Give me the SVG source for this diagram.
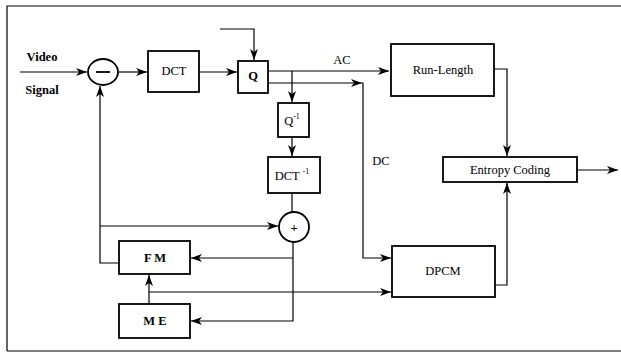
<svg xmlns="http://www.w3.org/2000/svg" width="621" height="355" viewBox="0 0 621 355">
<defs>
<marker id="ah" markerWidth="12" markerHeight="8" refX="11" refY="4" orient="auto" markerUnits="userSpaceOnUse">
<path d="M0,0 L11,4 L0,8 L3,4 Z" fill="#000"/>
</marker>
</defs>
<style>
.box{fill:#fff;stroke:#000;stroke-width:1.8}
.ln{fill:none;stroke:#000;stroke-width:1.2}
.ar{fill:none;stroke:#000;stroke-width:1.2;marker-end:url(#ah)}
text{font-family:"Liberation Serif","Times New Roman",serif;font-size:12.5px;fill:#000;text-anchor:middle;dominant-baseline:central}
.b{font-weight:bold}
</style>
<rect width="621" height="355" fill="#fff"/>
<g id="frame">
<path d="M7,351 L7,6 L621,6" class="ln" stroke-width="1.5"/>
<path d="M7,351 L621,351" class="ln" stroke-width="1.5"/>
</g>
<g id="connectors">
<line x1="20" y1="72" x2="87" y2="72" class="ar"/>
<line x1="118" y1="72" x2="147" y2="72" class="ar"/>
<line x1="199" y1="72" x2="237" y2="72" class="ar"/>
<path d="M220,29 L254,29 L254,60" class="ar"/>
<line x1="268" y1="71" x2="389" y2="71" class="ar"/>
<path d="M268,83 L362,83" class="ar"/>
<path d="M362,83 L363,83 L363,258 L391,258" class="ar"/>
<line x1="292" y1="71" x2="292" y2="102" class="ar"/>
<line x1="292" y1="137" x2="292" y2="156" class="ar"/>
<line x1="292" y1="193" x2="292" y2="212" class="ln"/>
<path d="M494,69 L507,69 L507,156" class="ar"/>
<path d="M495,285 L507,285 L507,183" class="ar"/>
<line x1="577" y1="170" x2="618" y2="170" class="ar"/>
<path d="M119,263 L100,263 L100,86" class="ar"/>
<line x1="100" y1="226" x2="278" y2="226" class="ar"/>
<path d="M293,242 L293,321 L191,321" class="ar"/>
<line x1="293" y1="258" x2="191" y2="258" class="ar"/>
<line x1="149" y1="304" x2="149" y2="275" class="ar"/>
<line x1="149" y1="292" x2="391" y2="292" class="ar"/>
</g>
<g id="labels">
<text x="42" y="57" class="b">Video</text>
<text x="42" y="90" class="b">Signal</text>
<text x="342" y="60">AC</text>
<text x="381" y="161">DC</text>
</g>
<g id="sub">
<ellipse cx="103" cy="72" rx="15" ry="13" class="box"/>
<line x1="96" y1="72" x2="110" y2="72" stroke="#000" stroke-width="1.8"/>
</g>
<g id="dct">
<rect x="148" y="51" width="51" height="41" class="box"/>
<text x="174" y="71">DCT</text>
</g>
<g id="q">
<rect x="238" y="61" width="30" height="32" class="box"/>
<text x="253" y="76" class="b">Q</text>
</g>
<g id="qinv">
<rect x="278" y="103" width="31" height="34" class="box"/>
<text x="292" y="121">Q<tspan font-size="8" dy="-5">-1</tspan></text>
</g>
<g id="idct">
<rect x="268" y="157" width="52" height="36" class="box"/>
<text x="292" y="176">DCT <tspan font-size="8" dy="-5">-1</tspan></text>
</g>
<g id="add">
<circle cx="294" cy="227" r="15" class="box"/>
<text x="294" y="228" class="b">+</text>
</g>
<g id="fm">
<rect x="119" y="241" width="71" height="33" class="box"/>
<text x="155" y="258" class="b">F M</text>
</g>
<g id="me">
<rect x="119" y="304" width="71" height="34" class="box"/>
<text x="155" y="321" class="b">M E</text>
</g>
<g id="runlength">
<rect x="391" y="44" width="103" height="52" class="box"/>
<text x="443" y="70">Run-Length</text>
</g>
<g id="entropy">
<rect x="443" y="157" width="134" height="25" class="box"/>
<text x="510" y="170">Entropy Coding</text>
</g>
<g id="dpcm">
<rect x="392" y="246" width="103" height="51" class="box"/>
<text x="443" y="271">DPCM</text>
</g>
</svg>
